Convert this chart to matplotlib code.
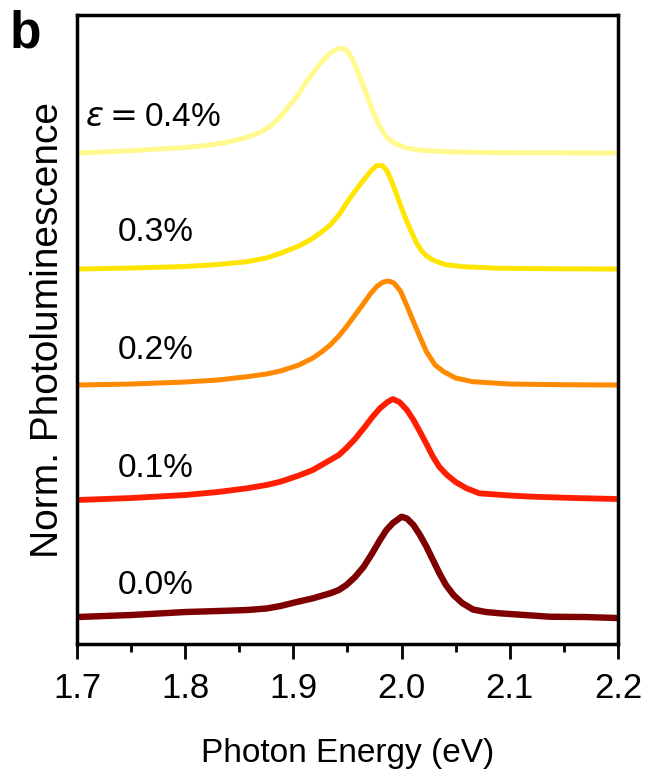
import matplotlib
matplotlib.use('Agg')
import matplotlib.pyplot as plt
import numpy as np

plt.rcParams['font.family'] = ['Liberation Sans', 'DejaVu Sans']
plt.rcParams['mathtext.fontset'] = 'dejavusans'

# strain labels and vertical offsets of each spectrum (bottom to top)
strain_labels = ['0.0%', '0.1%', '0.2%', '0.3%', r'$\epsilon = $0.4%']
offsets = [0.27, 1.44, 2.59, 3.75, 4.91]
label_y = [0.59, 1.76, 2.94, 4.12, 5.27]
colors = ['#7F0000', '#FF1E00', '#FF8A00', '#FFE500', '#FFF98F']

# normalized PL spectra
e_00 = [1.70, 1.75, 1.80, 1.83, 1.857, 1.875, 1.888, 1.903, 1.918, 1.934, 1.942, 1.949,
        1.957, 1.965, 1.973, 1.980, 1.986, 1.992, 2.000, 2.005, 2.011, 2.017, 2.023,
        2.029, 2.035, 2.041, 2.048, 2.056, 2.066, 2.078, 2.091, 2.137, 2.17, 2.20]
i_00 = [0.00, 0.02, 0.05, 0.06, 0.07, 0.085, 0.11, 0.15, 0.187, 0.237, 0.27, 0.32,
        0.40, 0.503, 0.64, 0.77, 0.87, 0.94, 1.003, 0.985, 0.92, 0.82, 0.703,
        0.57, 0.437, 0.32, 0.22, 0.14, 0.075, 0.05, 0.037, 0.003, 0.0, -0.01]

e_01 = [1.70, 1.75, 1.80, 1.83, 1.857, 1.875, 1.888, 1.905, 1.918, 1.934, 1.942, 1.949,
        1.957, 1.965, 1.973, 1.980, 1.987, 1.992, 1.998, 2.005, 2.011, 2.017, 2.023,
        2.029, 2.035, 2.042, 2.05, 2.060, 2.072, 2.10, 2.122, 2.16, 2.20]
i_01 = [0.00, 0.02, 0.05, 0.08, 0.117, 0.15, 0.183, 0.245, 0.30, 0.40, 0.45, 0.52,
        0.61, 0.717, 0.83, 0.917, 0.98, 1.01, 0.98, 0.90, 0.80, 0.683, 0.56,
        0.433, 0.33, 0.25, 0.18, 0.117, 0.067, 0.045, 0.033, 0.02, 0.01]

e_02 = [1.70, 1.75, 1.80, 1.83, 1.857, 1.875, 1.888, 1.905, 1.918, 1.926, 1.934, 1.942,
        1.949, 1.957, 1.965, 1.971, 1.977, 1.983, 1.988, 1.993, 1.999, 2.005, 2.011,
        2.017, 2.023, 2.031, 2.039, 2.05, 2.066, 2.10, 2.15, 2.20]
i_02 = [0.00, 0.01, 0.03, 0.05, 0.083, 0.11, 0.14, 0.20, 0.27, 0.33, 0.40, 0.49,
        0.583, 0.70, 0.817, 0.91, 0.985, 1.03, 1.04, 1.02, 0.94, 0.79, 0.633,
        0.48, 0.333, 0.20, 0.133, 0.07, 0.033, 0.01, 0.003, 0.0]

e_03 = [1.70, 1.75, 1.80, 1.83, 1.857, 1.875, 1.888, 1.905, 1.918, 1.926, 1.934, 1.942,
        1.949, 1.957, 1.965, 1.972, 1.977, 1.982, 1.986, 1.990, 1.995, 2.000, 2.005,
        2.010, 2.014, 2.018, 2.022, 2.029, 2.04, 2.057, 2.09, 2.14, 2.20]
i_03 = [0.00, 0.01, 0.025, 0.045, 0.073, 0.11, 0.157, 0.23, 0.307, 0.37, 0.44, 0.54,
        0.657, 0.78, 0.89, 0.985, 1.035, 1.035, 0.99, 0.90, 0.757, 0.61, 0.473,
        0.35, 0.257, 0.19, 0.14, 0.09, 0.045, 0.023, 0.008, 0.003, 0.0]

e_04 = [1.70, 1.75, 1.80, 1.82, 1.84, 1.855, 1.87, 1.88, 1.888, 1.895, 1.903, 1.91,
        1.918, 1.926, 1.934, 1.940, 1.945, 1.950, 1.955, 1.960, 1.965, 1.970, 1.974,
        1.980, 1.986, 1.993, 2.000, 2.005, 2.02, 2.042, 2.08, 2.14, 2.20]
i_04 = [0.00, 0.023, 0.055, 0.075, 0.11, 0.15, 0.21, 0.28, 0.36, 0.46, 0.56, 0.68,
        0.80, 0.91, 1.00, 1.04, 1.05, 1.02, 0.93, 0.80, 0.66, 0.52, 0.40,
        0.26, 0.16, 0.10, 0.07, 0.05, 0.025, 0.013, 0.005, 0.002, 0.0]

energies = [e_00, e_01, e_02, e_03, e_04]
spectra = [i_00, i_01, i_02, i_03, i_04]
widths = [4.6, 4.2, 3.6, 3.6, 3.6]

fig = plt.figure(figsize=(6.49, 7.75), dpi=100)
ax = fig.add_axes([0.1186, 0.169, 0.8336, 0.8116])

for e, s, off, c, lw in zip(energies, spectra, offsets, colors, widths):
    ax.plot(e, np.array(s) + off, color=c, lw=lw,
            solid_joinstyle='round', solid_capstyle='butt')

for lab, ly in zip(strain_labels, label_y):
    x0 = 1.7074 if 'epsilon' in lab else 1.738
    ax.text(x0, ly, lab, fontsize=24, va='center', ha='left')

ax.set_xlim(1.7, 2.2)
ax.set_ylim(0, 6.29)
ax.set_xticks([1.7, 1.8, 1.9, 2.0, 2.1, 2.2])
ax.set_xticks(np.arange(1.75, 2.2, 0.1), minor=True)
ax.set_xticklabels(['1.7', '1.8', '1.9', '2.0', '2.1', '2.2'])
ax.set_yticks([])
ax.tick_params(axis='x', which='major', direction='out', length=11, width=2,
               labelsize=25, pad=9)
ax.tick_params(axis='x', which='minor', direction='out', length=5.5, width=2)
for sp in ax.spines.values():
    sp.set_linewidth(2.5)

ax.set_xlabel('Photon Energy (eV)', fontsize=24, labelpad=24)
ax.set_ylabel('Norm. Photoluminescence', fontsize=28, labelpad=8)

fig.text(0.015, 0.988, 'b', fontsize=37, fontweight='bold', va='top', ha='left')

fig.savefig('out.png', dpi=100)
